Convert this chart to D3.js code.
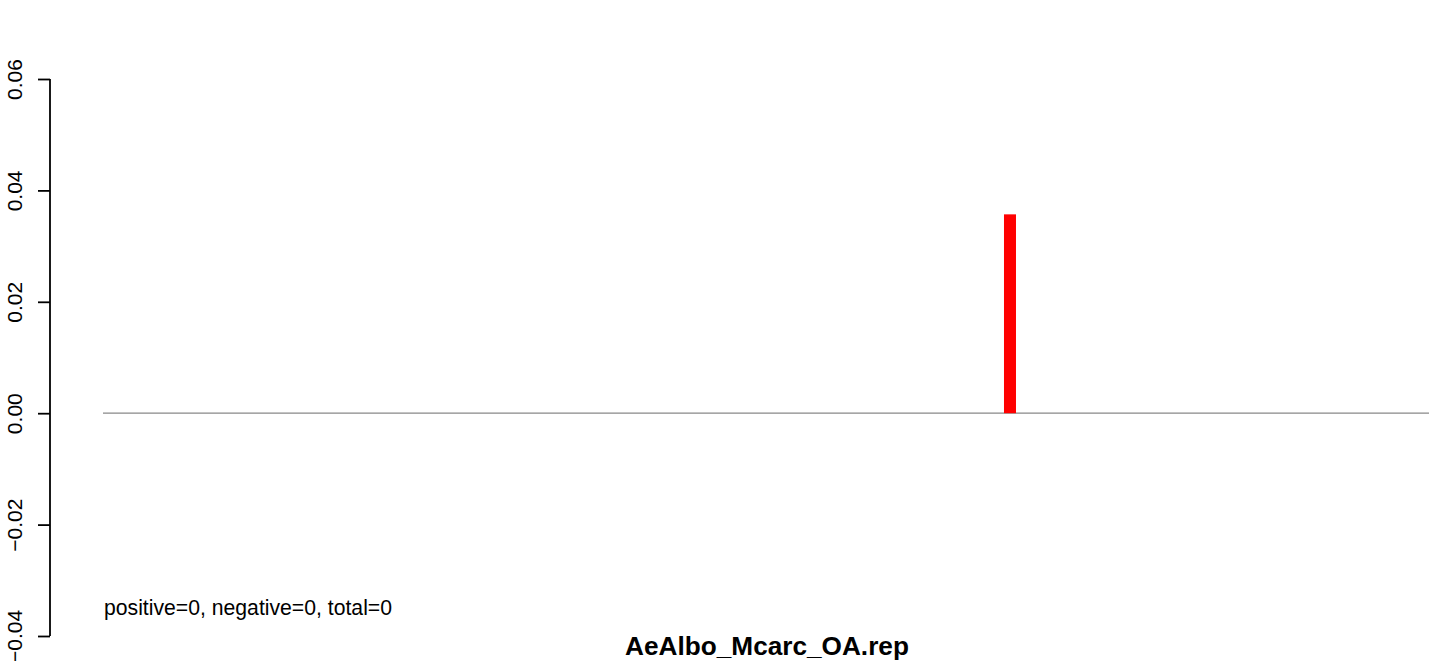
<!DOCTYPE html>
<html><head><meta charset="utf-8">
<script src="https://cdn.jsdelivr.net/npm/d3@7"></script>
<style>body{margin:0;background:#fff}svg{display:block}</style>
</head><body>
<svg id="c" width="1429" height="661"></svg>
<script>
const title = "AeAlbo_Mcarc_OA.rep";
const note = "positive=0, negative=0, total=0";
const yTicks = [-0.04, -0.02, 0.00, 0.02, 0.04, 0.06];
const yTickLabels = ["\u22120.04", "\u22120.02", "0.00", "0.02", "0.04", "0.06"];
const barPositions = [0.684];
const barValues = [0.0357];

const svg = d3.select("#c");
const y = d3.scaleLinear().domain([-0.04, 0.06]).range([636, 79]);
const x = d3.scaleLinear().domain([0, 1]).range([103, 1429]);
const font = "Liberation Sans, Arial, sans-serif";

// y axis
const ax = svg.append("g").attr("transform", "translate(50,0)")
  .call(d3.axisLeft(y).tickValues(yTicks).tickSize(12).tickFormat((d,i)=>yTickLabels[i]));
ax.select(".domain").attr("stroke","#000").attr("stroke-width",1.8).attr("d","M0,79V636");
ax.selectAll(".tick line").attr("stroke","#000").attr("stroke-width",1.8);
ax.selectAll(".tick text")
  .attr("font-family",font).attr("font-size",21).attr("fill","#000")
  .attr("transform", "rotate(-90)").attr("x",0).attr("y",-28)
  .attr("dy","0").attr("text-anchor","middle");

// zero line
svg.append("line").attr("x1", x(0)).attr("x2", x(1)).attr("y1", y(0)).attr("y2", y(0))
  .attr("stroke","#888").attr("stroke-width",1.3);

// bars
svg.selectAll("rect.bar").data(barValues).enter().append("rect")
  .attr("x",(d,i)=>x(barPositions[i])-6).attr("width",12)
  .attr("y",d=>y(d)).attr("height",d=>y(0)-y(d)).attr("fill","#ff0000");

svg.append("text").attr("x",104).attr("y",615).text(note)
  .attr("font-family",font).attr("font-size",21.2).attr("fill","#000");

svg.append("text").attr("x",767).attr("y",655).attr("text-anchor","middle").text(title)
  .attr("font-family",font).attr("font-weight","bold").attr("font-size",26.2).attr("fill","#000");
</script>
</body></html>
